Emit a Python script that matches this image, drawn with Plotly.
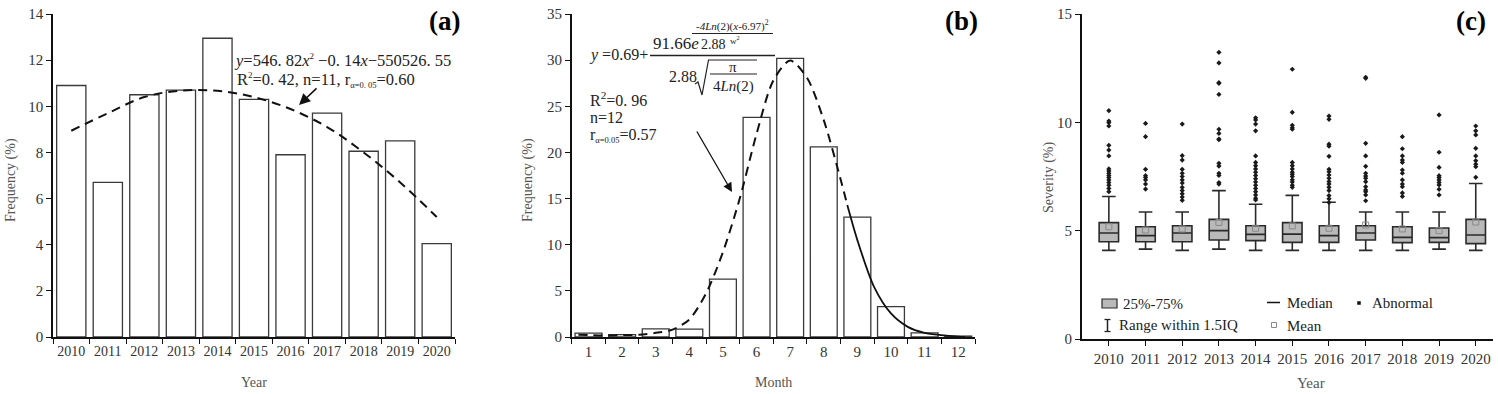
import plotly.graph_objects as go

W, H = 1498, 394
FONT = "Liberation Serif, Times New Roman, serif"

# ---------------- data ----------------
years = ["2010", "2011", "2012", "2013", "2014", "2015", "2016", "2017", "2018", "2019", "2020"]
freq_year = [10.9, 6.7, 10.5, 10.7, 12.95, 10.3, 7.9, 9.7, 8.05, 8.5, 4.05]
fit_year = [8.94, 9.7, 10.4, 10.68, 10.67, 10.4, 9.88, 9.1, 8.0, 6.7, 5.2]

months = [1, 2, 3, 4, 5, 6, 7, 8, 9, 10, 11, 12]
freq_month = [0.43, 0.25, 0.88, 0.85, 6.28, 23.8, 30.2, 20.6, 13.0, 3.3, 0.45, 0.1]
fit_month_x_dash = [0.7, 1, 1.5, 2, 2.5, 3, 3.5, 4, 4.5, 5, 5.5, 6, 6.5, 7, 7.5, 8, 8.5, 8.7]
fit_month_y_dash = [0.25, 0.2, 0.15, 0.2, 0.25, 0.45, 0.8, 1.9, 4.75, 9.2, 15.0, 22.0, 27.8, 29.95, 28.1, 23.5, 17.1, 14.3]
fit_month_x_solid = [8.7, 9, 9.5, 10, 10.5, 11, 11.5, 12, 12.2]
fit_month_y_solid = [14.3, 10.5, 5.4, 2.55, 1.1, 0.45, 0.2, 0.05, 0.02]

sev_q1 = [4.49, 4.49, 4.49, 4.57, 4.54, 4.46, 4.46, 4.57, 4.45, 4.46, 4.40]
sev_median = [4.89, 4.77, 4.89, 5.00, 4.83, 4.84, 4.77, 4.89, 4.69, 4.68, 4.80]
sev_q3 = [5.37, 5.18, 5.23, 5.52, 5.23, 5.37, 5.23, 5.23, 5.18, 5.12, 5.52]
sev_low = [4.09, 4.15, 4.09, 4.15, 4.09, 4.09, 4.09, 4.09, 4.09, 4.15, 4.09]
sev_high = [6.58, 5.86, 5.86, 6.85, 6.22, 6.63, 6.31, 5.86, 5.86, 5.86, 7.18]
sev_mean = [5.18, 5.03, 5.08, 5.38, 5.11, 5.22, 5.11, 5.26, 5.08, 5.00, 5.40]
sev_outliers = [
    [10.54, 10.06, 9.98, 9.83, 8.94, 8.72, 8.45, 7.85, 7.75, 7.65, 7.55, 7.45, 7.34, 7.22, 7.1, 6.95, 6.8],
    [9.95, 9.34, 7.83, 7.54, 7.45, 7.34, 7.15, 6.92],
    [9.92, 8.46, 8.26, 7.83, 7.65, 7.5, 7.34, 7.2, 7.0, 6.85, 6.7, 6.55, 6.4],
    [13.23, 12.74, 11.83, 11.8, 11.29, 9.68, 9.49, 9.23, 9.2, 8.11, 7.98, 7.65, 7.55, 7.22, 7.15],
    [10.21, 10.11, 9.92, 9.61, 8.45, 8.15, 8.0, 7.85, 7.7, 7.55, 7.4, 7.25, 7.1, 6.95, 6.8, 6.65, 6.5, 6.42],
    [12.45, 10.46, 9.86, 9.75, 9.68, 8.15, 8.0, 7.85, 7.7, 7.6, 7.5, 7.35, 7.25, 7.1, 7.0],
    [10.29, 10.14, 8.99, 8.9, 8.43, 7.83, 7.72, 7.57, 7.42, 7.27, 7.15, 7.0, 6.85, 6.62, 6.47, 6.3],
    [12.08, 12.03, 9.03, 8.45, 7.97, 7.65, 7.52, 7.42, 7.26, 7.03, 6.88, 6.8, 6.65, 6.38],
    [9.34, 8.78, 8.45, 8.26, 8.15, 7.8, 7.65, 7.34, 7.15, 7.03, 6.74, 6.58],
    [10.34, 8.62, 7.92, 7.54, 7.45, 7.34, 7.22, 7.11, 6.91, 6.65],
    [9.83, 9.61, 9.42, 8.8, 8.45, 8.23, 8.07, 7.95, 7.46],
]

# ---------------- helpers ----------------
def px(x):
    return x / W

def py(y):
    return 1 - y / H

annotations = []
shapes = []

def text(t, x, y, size=15, xanchor="left", yanchor="middle", color="#222"):
    annotations.append(dict(
        text=t, x=px(x), y=py(y), xref="paper", yref="paper", showarrow=False,
        xanchor=xanchor, yanchor=yanchor,
        font=dict(family=FONT, size=size, color=color)))

def line(x0, y0, x1, y1, width=1.2, color="#222"):
    shapes.append(dict(type="line", xref="paper", yref="paper",
                       x0=px(x0), y0=py(y0), x1=px(x1), y1=py(y1),
                       line=dict(color=color, width=width)))

SUB = "<span style='font-size:8.5px;color:#222'>%s</span>"
SUP = "<span style='font-size:9px;color:#222'>%s</span>"

fig = go.Figure()

# ---------------- panel (a) ----------------
fig.add_trace(go.Bar(x=years, y=freq_year, width=0.8, marker=dict(color="white", line=dict(color="#3a3a3a", width=1.3)),
                     xaxis="x", yaxis="y", showlegend=False))
fig.add_trace(go.Scatter(x=years, y=fit_year, mode="lines", line=dict(color="#111", width=2, dash="9px,6px", shape="spline", smoothing=1),
                         xaxis="x", yaxis="y", showlegend=False))

# ---------------- panel (b) ----------------
fig.add_trace(go.Bar(x=months, y=freq_month, width=0.8, marker=dict(color="white", line=dict(color="#3a3a3a", width=1.3)),
                     xaxis="x2", yaxis="y2", showlegend=False))
fig.add_trace(go.Scatter(x=fit_month_x_dash, y=fit_month_y_dash, mode="lines",
                         line=dict(color="#111", width=2, dash="9px,6px", shape="spline", smoothing=0.8),
                         xaxis="x2", yaxis="y2", showlegend=False))
fig.add_trace(go.Scatter(x=fit_month_x_solid, y=fit_month_y_solid, mode="lines",
                         line=dict(color="#111", width=1.8, shape="spline", smoothing=0.8),
                         xaxis="x2", yaxis="y2", showlegend=False))

# ---------------- panel (c) ----------------
fig.add_trace(go.Box(x=years, q1=sev_q1, median=sev_median, q3=sev_q3, lowerfence=sev_low, upperfence=sev_high,
                     width=0.53, whiskerwidth=0.7, fillcolor="#b9b9b9", line=dict(color="#2a2a2a", width=1.6),
                     boxpoints=False, xaxis="x3", yaxis="y3", showlegend=False, hoverinfo="skip"))
ox, oy = [], []
for yr, vals in zip(years, sev_outliers):
    for v in vals:
        ox.append(yr)
        oy.append(v)
fig.add_trace(go.Scatter(x=ox, y=oy, mode="markers", marker=dict(symbol="diamond", size=4, color="#1a1a1a"),
                         xaxis="x3", yaxis="y3", showlegend=False))
fig.add_trace(go.Scatter(x=years, y=sev_mean, mode="markers",
                         marker=dict(symbol="square-open", size=6, color="#8a8a8a", line=dict(width=1)),
                         xaxis="x3", yaxis="y3", showlegend=False))

# ---------------- axes ----------------
tickfont = dict(family=FONT, size=15, color="#333")
common = dict(showline=True, linecolor="#111", linewidth=1.5, ticks="outside", ticklen=5, tickwidth=1.3,
              tickcolor="#111", showgrid=False, zeroline=False, tickfont=tickfont, fixedrange=True)
ydom_ab = [py(337), py(14)]
ydom_c = [py(339), py(14)]

layout = dict(
    width=W, height=H, autosize=False, margin=dict(l=0, r=0, t=0, b=0, autoexpand=False),
    paper_bgcolor="white", plot_bgcolor="white", bargap=0.2,
    xaxis=dict(common, domain=[px(53), px(455)], type="category", range=[-0.5, 10.5], anchor="y",
               tickson="boundaries", tickangle=0, tickfont=dict(family=FONT, size=14, color="#333")),
    yaxis=dict(common, domain=ydom_ab, range=[0, 14], dtick=2, anchor="x"),
    xaxis2=dict(common, domain=[px(571.7), px(975)], range=[0.5, 12.5], anchor="y2",
                tickvals=months, ticklen=0, tickangle=0,
                minor=dict(tickvals=[m - 0.5 for m in months] + [12.5], ticks="outside", ticklen=5,
                           tickcolor="#111", tickwidth=1.3, showgrid=False)),
    yaxis2=dict(common, domain=ydom_ab, range=[0, 35], dtick=5, anchor="x2"),
    xaxis3=dict(common, domain=[px(1081.7), px(1493)], type="category", range=[-0.74, 10.47], anchor="y3",
                tickangle=0),
    yaxis3=dict(common, domain=ydom_c, range=[0, 15], dtick=5, anchor="x3"),
)

# axis titles
title_col = "#555"
text("Year", 254, 382, 14, "center", color=title_col)
text("Month", 773, 382, 14, "center", color=title_col)
text("Year", 1311, 383, 15, "center", color=title_col)
for xx, yy, t in [(11, 180, "Frequency (%)"), (528, 180, "Frequency (%)"), (1049, 178, "Severity (%)")]:
    annotations.append(dict(text=t, x=px(xx), y=py(yy), xref="paper", yref="paper", showarrow=False,
                            textangle=-90, xanchor="center", yanchor="middle",
                            font=dict(family=FONT, size=14, color=title_col)))

# panel labels
for t, xx in [("(a)", 444), ("(b)", 961), ("(c)", 1471)]:
    text("<b>%s</b>" % t, xx, 21, 27, "center", color="#000")

# panel (a) equation
text("<i>y</i>=546. 82<i>x</i><sup>" + (SUP % "2") + "</sup> −0. 14<i>x</i>−550526. 55", 232, 61, 16.5)
text("R<sup>" + (SUP % "2") + "</sup>=0. 42, n=11, r<sub>" + (SUB % "α=0. 05") + "</sub>=0.60", 235, 80, 16.5)
annotations.append(dict(x=px(299), y=py(105), xref="paper", yref="paper", ax=19, ay=-18,
                        showarrow=True, arrowhead=2, arrowsize=1.4, arrowwidth=1.6, arrowcolor="#111", text=""))

# panel (b) equation
text("<i>y</i> =0.69+", 587, 55, 16)
text("91.66<i>e</i>", 651, 43, 17)
text("2.88", 699, 45, 14)
text("w<sup>2</sup>", 728, 40, 9)
text("<i>-4Ln</i>(2)(<i>x</i>-6.97)<sup>2</sup>", 732.5, 25, 11, "center")
line(692, 33.5, 773, 33.5, 1)
line(650, 55.5, 775, 55.5, 1.3)
text("2.88", 683, 77, 16, "center")
shapes.append(dict(type="path", xref="paper", yref="paper",
                   path="M %f %f L %f %f L %f %f L %f %f L %f %f" % (
                       px(695), py(84), px(698), py(82), px(702), py(95), px(708.5), py(60), px(757), py(60)),
                   line=dict(color="#222", width=1.2)))
text("π", 733, 67, 15, "center")
line(710, 74, 757, 74, 1.1)
text("4<i>Ln</i>(2)", 733, 86, 15, "center")
text("R<sup>2</sup>=0. 96", 588, 99, 16)
text("n=12", 588, 117, 16)
text("r<sub>" + (SUB % "α=0.05") + "</sub>=0.57", 588, 136, 16)
annotations.append(dict(x=px(732), y=py(192), xref="paper", yref="paper", ax=-36, ay=-62,
                        showarrow=True, arrowhead=2, arrowsize=1.4, arrowwidth=1.3, arrowcolor="#111", text=""))

# panel (c) legend
shapes.append(dict(type="rect", xref="paper", yref="paper", x0=px(1102), y0=py(308), x1=px(1117), y1=py(299),
                   fillcolor="#b9b9b9", line=dict(color="#2a2a2a", width=1.2)))
text("25%-75%", 1121, 303.5, 15)
line(1267, 302.5, 1280, 302.5, 1.5, "#111")
text("Median", 1285, 302.5, 15)
shapes.append(dict(type="rect", xref="paper", yref="paper", x0=px(1357.5), y0=py(304.5), x1=px(1360.5), y1=py(301.5),
                   fillcolor="#111", line=dict(color="#111", width=0.5)))
text("Abnormal", 1370, 303, 15)
line(1107.5, 319.5, 1107.5, 331.5, 1.5, "#222")
line(1104.5, 319.5, 1110.5, 319.5, 1.3, "#222")
line(1104.5, 331.5, 1110.5, 331.5, 1.3, "#222")
text("Range within 1.5IQ", 1117, 325, 15)
shapes.append(dict(type="rect", xref="paper", yref="paper", x0=px(1271.5), y0=py(327.5), x1=px(1276.5), y1=py(322.5),
                   fillcolor="white", line=dict(color="#8a8a8a", width=1)))
text("Mean", 1285, 325.5, 15)

layout["annotations"] = annotations
layout["shapes"] = shapes
fig.update_layout(**layout)
fig.write_html("out.html",
               config={"responsive": False, "displayModeBar": False},
               post_script="document.body.style.margin='0';document.body.style.padding='0';"
                           "document.body.style.overflow='hidden';")
